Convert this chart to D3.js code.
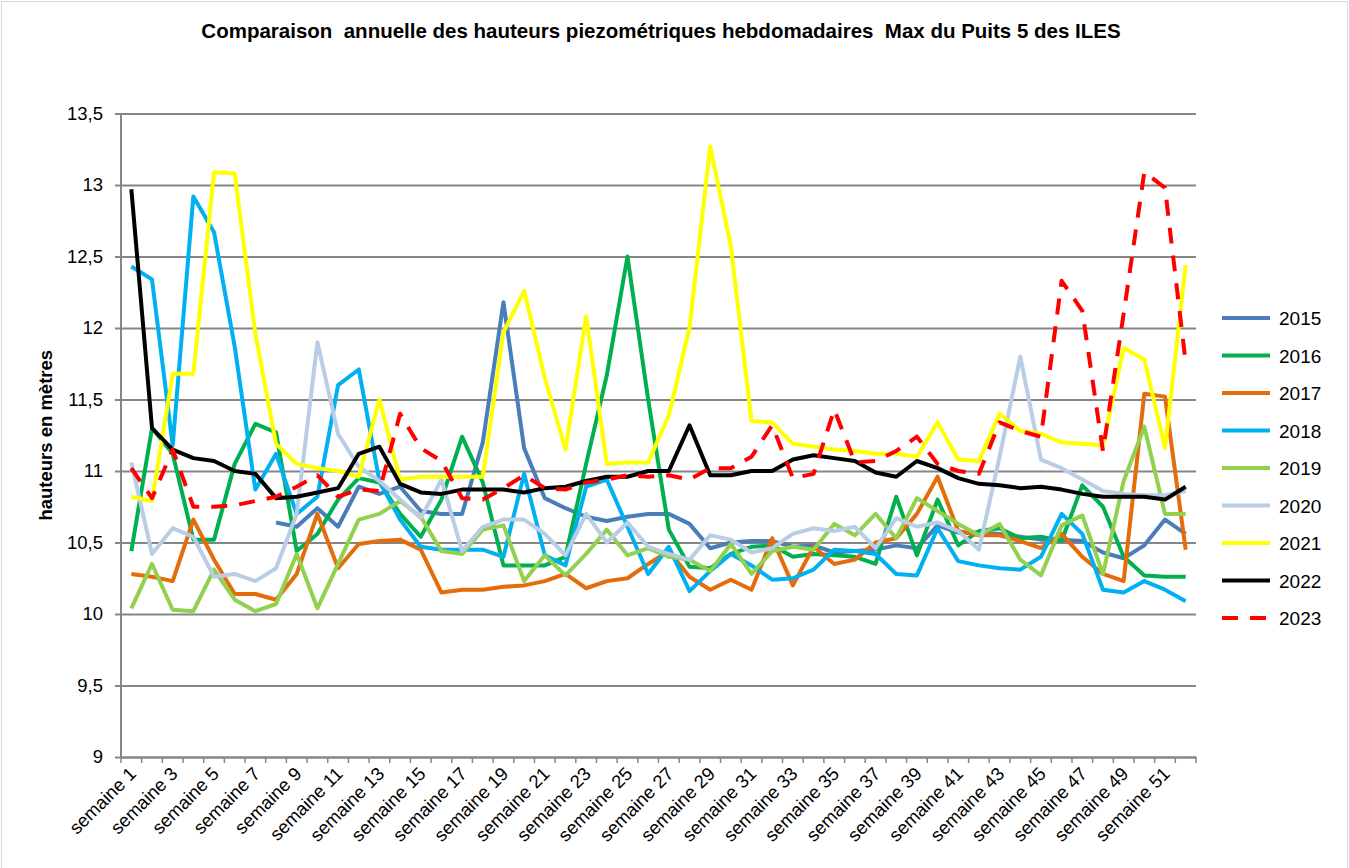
<!DOCTYPE html>
<html>
<head>
<meta charset="utf-8">
<script src="https://cdn.jsdelivr.net/npm/d3@7"></script>
<style>
  body { margin: 0; background: #fff; }
  svg { display: block; font-family: "Liberation Sans", Arial, sans-serif; }
</style>
</head>
<body>
<div id="chart"></div>
<script>
// Weekly max piezometric heights, Puits 5 des ILES
const weeks = d3.range(1, 53).map(i => `semaine ${i}`);
const years = ['2015', '2016', '2017', '2018', '2019', '2020', '2021', '2022', '2023'];
const yTicks = [9, 9.5, 10, 10.5, 11, 11.5, 12, 12.5, 13, 13.5];

const s2015 = [null, null, null, null, null, null, null, 10.64, 10.61, 10.74, 10.61, 10.89, 10.84, 10.89, 10.72, 10.70, 10.70, 11.20, 12.18, 11.16, 10.81, 10.74, 10.68, 10.65, 10.68, 10.70, 10.70, 10.63, 10.46, 10.50, 10.51, 10.51, 10.47, 10.48, 10.43, 10.44, 10.45, 10.48, 10.46, 10.62, 10.57, 10.57, 10.56, 10.54, 10.52, 10.52, 10.51, 10.43, 10.39, 10.48, 10.66, 10.56];
const s2016 = [10.44, 11.30, 11.12, 10.52, 10.52, 11.05, 11.33, 11.27, 10.44, 10.56, 10.80, 10.95, 10.92, 10.70, 10.54, 10.80, 11.24, 10.92, 10.34, 10.34, 10.34, 10.40, 11.05, 11.67, 12.50, 11.50, 10.59, 10.33, 10.32, 10.42, 10.47, 10.48, 10.40, 10.42, 10.41, 10.40, 10.35, 10.82, 10.41, 10.80, 10.48, 10.58, 10.60, 10.53, 10.54, 10.51, 10.90, 10.75, 10.40, 10.27, 10.26, 10.26];
const s2017 = [10.28, 10.26, 10.23, 10.66, 10.38, 10.14, 10.14, 10.10, 10.28, 10.70, 10.32, 10.49, 10.51, 10.52, 10.45, 10.15, 10.17, 10.17, 10.19, 10.20, 10.23, 10.28, 10.18, 10.23, 10.25, 10.35, 10.44, 10.26, 10.17, 10.24, 10.17, 10.53, 10.20, 10.47, 10.35, 10.38, 10.50, 10.53, 10.70, 10.96, 10.58, 10.55, 10.55, 10.51, 10.46, 10.56, 10.40, 10.28, 10.23, 11.54, 11.52, 10.45];
const s2018 = [12.43, 12.34, 11.18, 12.92, 12.67, 11.87, 10.87, 11.12, 10.70, 10.82, 11.60, 11.71, 10.93, 10.66, 10.47, 10.45, 10.45, 10.45, 10.40, 10.98, 10.41, 10.34, 10.89, 10.94, 10.61, 10.28, 10.47, 10.16, 10.30, 10.42, 10.34, 10.24, 10.25, 10.31, 10.45, 10.44, 10.42, 10.28, 10.27, 10.60, 10.37, 10.34, 10.32, 10.31, 10.40, 10.70, 10.56, 10.17, 10.15, 10.23, 10.17, 10.09];
const s2019 = [10.04, 10.35, 10.03, 10.02, 10.31, 10.10, 10.02, 10.07, 10.42, 10.04, 10.35, 10.66, 10.70, 10.79, 10.68, 10.44, 10.42, 10.59, 10.62, 10.23, 10.41, 10.27, 10.42, 10.59, 10.41, 10.46, 10.40, 10.38, 10.30, 10.49, 10.28, 10.44, 10.47, 10.45, 10.63, 10.55, 10.70, 10.53, 10.81, 10.72, 10.63, 10.55, 10.63, 10.38, 10.27, 10.62, 10.69, 10.28, 10.93, 11.31, 10.70, 10.70];
const s2020 = [11.06, 10.42, 10.60, 10.54, 10.26, 10.28, 10.23, 10.32, 10.70, 11.90, 11.26, 11.03, 10.93, 10.80, 10.67, 10.94, 10.44, 10.61, 10.66, 10.66, 10.56, 10.41, 10.70, 10.50, 10.64, 10.47, 10.42, 10.38, 10.55, 10.52, 10.43, 10.46, 10.56, 10.60, 10.58, 10.61, 10.46, 10.67, 10.61, 10.64, 10.58, 10.45, 11.10, 11.80, 11.08, 11.02, 10.94, 10.86, 10.84, 10.83, 10.83, 10.86];
const s2021 = [10.82, 10.79, 11.68, 11.68, 13.09, 13.08, 11.96, 11.19, 11.05, 11.02, 11.00, 10.96, 11.50, 10.94, 10.96, 10.96, 10.96, 10.96, 11.97, 12.26, 11.65, 11.15, 12.08, 11.05, 11.06, 11.06, 11.39, 12.00, 13.27, 12.57, 11.35, 11.34, 11.19, 11.17, 11.15, 11.14, 11.12, 11.12, 11.10, 11.34, 11.08, 11.07, 11.40, 11.28, 11.26, 11.20, 11.19, 11.18, 11.86, 11.78, 11.16, 12.44];
const s2022 = [12.97, 11.30, 11.15, 11.09, 11.07, 11.00, 10.98, 10.81, 10.82, 10.85, 10.88, 11.12, 11.17, 10.91, 10.85, 10.84, 10.87, 10.87, 10.87, 10.85, 10.88, 10.89, 10.93, 10.96, 10.96, 11.00, 11.00, 11.32, 10.97, 10.97, 11.00, 11.00, 11.08, 11.11, 11.09, 11.07, 10.99, 10.96, 11.07, 11.02, 10.95, 10.91, 10.90, 10.88, 10.89, 10.87, 10.84, 10.82, 10.82, 10.82, 10.80, 10.89];
const s2023 = [11.02, 10.81, 11.15, 10.75, 10.75, 10.76, 10.79, 10.82, 10.89, 10.97, 10.82, 10.87, 10.86, 11.40, 11.16, 11.07, 10.81, 10.80, 10.88, 10.97, 10.88, 10.87, 10.92, 10.94, 10.97, 10.96, 10.97, 10.94, 11.02, 11.02, 11.10, 11.32, 10.95, 10.98, 11.43, 11.06, 11.07, 11.14, 11.24, 11.05, 11.00, 10.98, 11.34, 11.28, 11.24, 12.33, 12.12, 11.14, 12.10, 13.09, 12.98, 11.76];

const seriesValues = [s2015, s2016, s2017, s2018, s2019, s2020, s2021, s2022, s2023];
const seriesColors = ['#4a7ebb', '#00b050', '#e46c0a', '#00b0f0', '#92d050', '#b9cde5', '#ffff00', '#000000', '#ff0000'];

const width = 1349, height = 868;
const plot = {left: 121, right: 1196, top: 113.5, bottom: 757};

const svg = d3.select('#chart').append('svg')
  .attr('width', width)
  .attr('height', height);

// Chart frame
svg.append('rect')
  .attr('x', 1.5).attr('y', 1.5)
  .attr('width', width - 3).attr('height', height + 10)
  .attr('fill', '#fff')
  .attr('stroke', '#d9d9d9');

// Scales
const x = d3.scaleBand().domain(weeks).range([plot.left, plot.right]);
const xc = d => x(d) + x.bandwidth() / 2;
const y = d3.scaleLinear().domain([9, 13.5]).range([plot.bottom, plot.top]);

// Y axis + gridlines
const yAxis = svg.append('g')
  .attr('transform', `translate(${plot.left},0)`)
  .call(d3.axisLeft(y)
    .tickValues(yTicks)
    .tickSize(-(plot.right - plot.left))
    .tickPadding(18)
    .tickFormat(d => String(d).replace('.', ',')))
  .call(g => g.select('.domain').remove())
  .call(g => g.selectAll('.tick line')
    .attr('stroke', '#868686')
    .attr('stroke-width', 2))
  .call(g => g.selectAll('.tick text')
    .attr('fill', '#000')
    .style('font-size', '18.5px'));

// small outer ticks on the y axis
yAxis.selectAll('.tick').append('line')
  .attr('x1', -6).attr('x2', 0)
  .attr('stroke', '#868686')
  .attr('stroke-width', 2);

// Y axis line
svg.append('line')
  .attr('x1', plot.left).attr('x2', plot.left)
  .attr('y1', plot.top).attr('y2', plot.bottom)
  .attr('stroke', '#868686')
  .attr('stroke-width', 2);

// X axis (labels every second week, rotated)
const xAxis = svg.append('g')
  .attr('transform', `translate(0,${plot.bottom})`)
  .call(d3.axisBottom(x)
    .tickValues(weeks.filter((d, i) => i % 2 === 0))
    .tickSize(0)
    .tickPadding(0))
  .call(g => g.select('.domain')
    .attr('stroke', '#868686')
    .attr('stroke-width', 2));

xAxis.selectAll('.tick text')
  .attr('fill', '#000')
  .style('font-size', '18.5px')
  .attr('text-anchor', 'end')
  .attr('dy', null)
  .attr('y', 0)
  .attr('transform', 'translate(6,18) rotate(-45)');

// x tick marks between categories
svg.append('g')
  .selectAll('line')
  .data(d3.range(0, 53))
  .join('line')
  .attr('x1', i => plot.left + i * x.bandwidth())
  .attr('x2', i => plot.left + i * x.bandwidth())
  .attr('y1', plot.bottom)
  .attr('y2', plot.bottom + 6)
  .attr('stroke', '#868686')
  .attr('stroke-width', 1.5);

// Lines
const line = d3.line()
  .defined(d => d != null)
  .x((d, i) => xc(weeks[i]))
  .y(d => y(d));

seriesValues.forEach((vals, k) => {
  svg.append('path')
    .datum(vals)
    .attr('d', line)
    .attr('fill', 'none')
    .attr('stroke', seriesColors[k])
    .attr('stroke-width', 4)
    .attr('stroke-linejoin', 'round')
    .attr('stroke-dasharray', years[k] === '2023' ? '16,12' : null);
});

// Legend
const legend = svg.append('g');
years.forEach((yr, k) => {
  const ly = 318 + k * 37.5;
  legend.append('line')
    .attr('x1', 1222).attr('x2', 1270)
    .attr('y1', ly).attr('y2', ly)
    .attr('stroke', seriesColors[k])
    .attr('stroke-width', 4)
    .attr('stroke-dasharray', yr === '2023' ? '16,12' : null);
  legend.append('text')
    .attr('x', 1279).attr('y', ly + 7)
    .style('font-size', '19px')
    .text(yr);
});

// Title
svg.append('text')
  .attr('x', 661).attr('y', 38)
  .attr('text-anchor', 'middle')
  .style('font-size', '20.5px')
  .style('font-weight', 'bold')
  .style('white-space', 'pre')
  .text('Comparaison  annuelle des hauteurs piezométriques hebdomadaires  Max du Puits 5 des ILES');

// Y axis title
svg.append('text')
  .attr('transform', `translate(52,${(plot.top + plot.bottom) / 2}) rotate(-90)`)
  .attr('text-anchor', 'middle')
  .style('font-size', '18.5px')
  .style('font-weight', 'bold')
  .text('hauteurs en mètres');
</script>
</body>
</html>
